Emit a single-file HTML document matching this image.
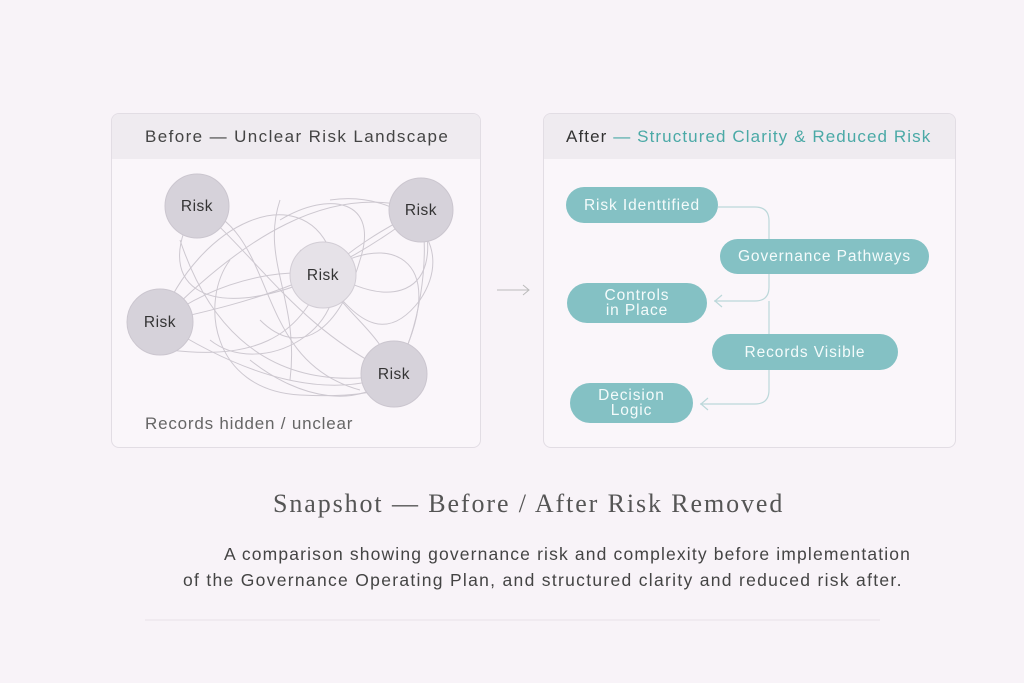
<!DOCTYPE html>
<html><head><meta charset="utf-8"><style>
body{margin:0;width:1024px;height:683px;background:#f8f3f8;font-family:"Liberation Sans",sans-serif;overflow:hidden;position:relative}
.panel{position:absolute;border:1px solid #e2dde4;border-radius:8px;background:#faf6fa;overflow:hidden}
.hdr{height:45px;background:#efebf0;font-size:17px;letter-spacing:1.1px;line-height:45px;padding-left:33px;color:#444;white-space:nowrap}
.t{position:absolute;font-size:15.5px;letter-spacing:0.5px;color:#333;text-align:center}
.pill{position:absolute;background:#84c1c4;border-radius:20px;color:#f4fbfb;font-size:15.5px;letter-spacing:0.9px;display:flex;align-items:center;justify-content:center;text-align:center;line-height:15px;white-space:nowrap}
</style></head><body>
<div class="panel" style="left:111px;top:113px;width:368px;height:333px"><div class="hdr" style="letter-spacing:1.4px">Before — Unclear Risk Landscape</div></div>
<div class="panel" style="left:543px;top:113px;width:411px;height:333px"><div class="hdr" style="padding-left:22px"><span style="color:#333">After</span> <span style="color:#4aa9a6">— Structured Clarity &amp; Reduced Risk</span></div></div>
<svg style="position:absolute;left:0;top:0" width="1024" height="683">
<g fill="none" stroke="#cdc8d0" stroke-width="1">
<path d="M197,206 C260,260 300,330 394,374"/>
<path d="M197,206 C150,280 200,330 323,275"/>
<path d="M160,322 C240,240 330,180 421,210"/>
<path d="M160,322 C260,300 330,280 421,210"/>
<path d="M160,322 C250,380 330,400 394,374"/>
<path d="M323,275 C380,230 460,250 394,374"/>
<path d="M197,206 C280,230 250,360 360,390"/>
<path d="M421,210 C450,300 380,320 300,250"/>
<path d="M160,322 C200,220 300,180 330,250 C360,330 260,380 210,340"/>
<path d="M280,220 C330,190 380,200 360,260 C340,330 300,360 260,320"/>
<path d="M180,240 C200,300 250,400 394,374"/>
<path d="M323,275 C300,340 250,360 170,350"/>
<path d="M421,210 C430,260 420,330 394,374"/>
<path d="M330,200 C400,190 460,240 420,300 C390,340 360,330 323,275"/>
<path d="M230,260 C200,300 210,390 300,395 C360,398 400,390 394,374"/>
<path d="M323,275 C350,320 380,330 394,374"/>
<path d="M160,322 C230,270 300,270 323,275"/>
<path d="M250,360 C300,400 360,410 394,374"/>
<path d="M280,200 C260,260 300,300 290,380"/>
<path d="M421,210 C380,230 350,250 323,275"/>
</g>
<g fill="#d6d2da" stroke="#cbc6cf"><circle cx="197" cy="206" r="32"/><circle cx="421" cy="210" r="32"/><circle cx="160" cy="322" r="33"/><circle cx="394" cy="374" r="33"/></g>
<circle cx="323" cy="275" r="33" fill="#e6e2e8" stroke="#d2cdd5"/>
<g fill="none" stroke="#bcd8da" stroke-width="1.2">
<path d="M718,207 H755 Q769,207 769,221 V287 Q769,301 755,301 H714"/>
<path d="M769,301 V390 Q769,404 755,404 H700"/>
<path d="M722,295 L715,301 L722,307"/>
<path d="M708,398 L701,404 L708,410"/>
</g>
<path d="M497,290 H529 M523,285 L529,290 L523,295" stroke="#bbb" fill="none"/>
<line x1="145" y1="620" x2="880" y2="620" stroke="#e8e2e8"/>
</svg>
<div class="t" style="left:165px;top:198px;width:64px">Risk</div>
<div class="t" style="left:389px;top:202px;width:64px">Risk</div>
<div class="t" style="left:291px;top:267px;width:64px">Risk</div>
<div class="t" style="left:128px;top:314px;width:64px">Risk</div>
<div class="t" style="left:362px;top:366px;width:64px">Risk</div>
<div class="t" style="left:145px;top:414px;color:#666;text-align:left;font-size:17px;letter-spacing:0.8px;white-space:nowrap">Records hidden / unclear</div>
<div class="pill" style="left:566px;top:187px;width:152px;height:36px">Risk Identtified</div>
<div class="pill" style="left:720px;top:239px;width:209px;height:35px">Governance Pathways</div>
<div class="pill" style="left:567px;top:283px;width:140px;height:40px">Controls<br>in Place</div>
<div class="pill" style="left:712px;top:334px;width:186px;height:36px">Records Visible</div>
<div class="pill" style="left:570px;top:383px;width:123px;height:40px">Decision<br>Logic</div>
<div style="position:absolute;left:273px;top:489px;white-space:nowrap;font-family:'Liberation Serif',serif;font-size:26px;letter-spacing:1.9px;color:#555">Snapshot — Before / After Risk Removed</div>
<div style="position:absolute;left:224px;top:544px;font-size:17.5px;letter-spacing:1.15px;color:#444;white-space:nowrap">A comparison showing governance risk and complexity before implementation</div>
<div style="position:absolute;left:183px;top:570px;font-size:17.5px;letter-spacing:1.3px;color:#444;white-space:nowrap">of the Governance Operating Plan, and structured clarity and reduced risk after.</div>
</body></html>
